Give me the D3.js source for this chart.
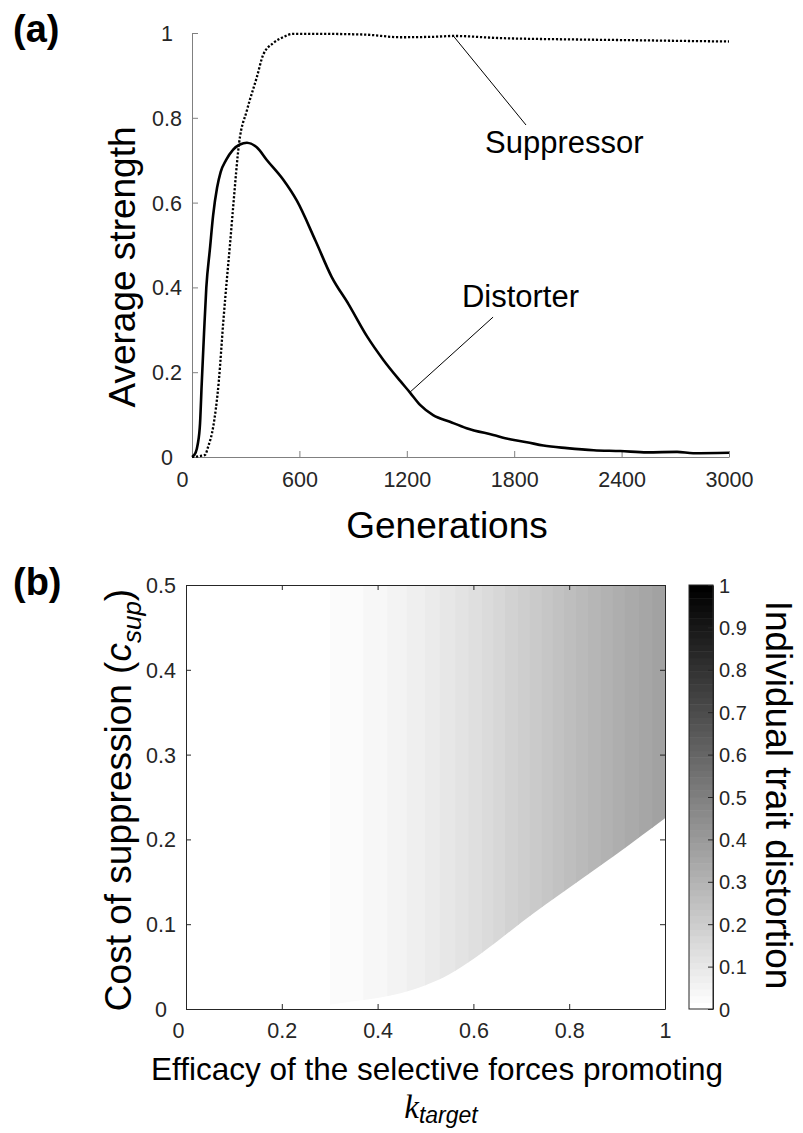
<!DOCTYPE html>
<html>
<head>
<meta charset="utf-8">
<script src="https://cdn.jsdelivr.net/npm/d3@7"></script>
<style>
  body { margin: 0; background: #fff; }
  text { font-family: "Liberation Sans", Arial, Helvetica, sans-serif; }
</style>
</head>
<body>
<svg id="fig" width="803" height="1133"></svg>
<script>
// ---- panel (a) data ----
const genTicks = [0, 600, 1200, 1800, 2400, 3000];
const strengthTicks = [0, 0.2, 0.4, 0.6, 0.8, 1];

const distGen = [0, 20, 32, 45, 54, 67, 80, 100, 118, 140, 160, 190, 230, 268, 307, 363, 419, 508, 585, 690, 780, 875, 977, 1069, 1162, 1218, 1274, 1347, 1441, 1534, 1683, 1776, 1870, 1963, 2095, 2244, 2393, 2542, 2710, 2800, 3000];
const distVal = [0, 0.01, 0.03, 0.08, 0.17, 0.29, 0.40, 0.49, 0.57, 0.635, 0.672, 0.70, 0.725, 0.737, 0.741, 0.73, 0.70, 0.655, 0.605, 0.51, 0.425, 0.36, 0.285, 0.229, 0.18, 0.152, 0.123, 0.099, 0.083, 0.068, 0.052, 0.042, 0.035, 0.027, 0.021, 0.016, 0.014, 0.011, 0.012, 0.009, 0.01];

const supGen = [0, 40, 73, 90, 118, 150, 175, 195, 212, 230, 263, 307, 363, 397, 453, 508, 564, 700, 899, 977, 1162, 1347, 1460, 1720, 2095, 2465, 2800, 3000];
const supVal = [0, 0.002, 0.005, 0.024, 0.07, 0.18, 0.32, 0.42, 0.50, 0.59, 0.74, 0.818, 0.897, 0.948, 0.976, 0.99, 0.998, 0.998, 0.997, 0.996, 0.99, 0.991, 0.993, 0.988, 0.985, 0.983, 0.981, 0.98];

const annotations = [
  { label: "Suppressor", from: [1460, 0.993], to: [1866, 0.783], at: [1637, 0.717] },
  { label: "Distorter", from: [1218, 0.153], to: [1682, 0.330], at: [1508, 0.354] }
];

// ---- panel (b) data ----
const kTicks = [0, 0.2, 0.4, 0.6, 0.8, 1];
const costTicks = [0, 0.1, 0.2, 0.3, 0.4, 0.5];
const barTicks = [0, 0.1, 0.2, 0.3, 0.4, 0.5, 0.6, 0.7, 0.8, 0.9, 1];

// lower edge of the shaded region (below it: white)
const boundaryK = [0.30, 0.35, 0.40, 0.45, 0.50, 0.55, 0.60, 0.65, 0.70, 0.75, 0.80, 0.85, 0.90, 0.95, 1.00];
const boundaryC = [0.005, 0.009, 0.013, 0.019, 0.028, 0.041, 0.059, 0.080, 0.102, 0.123, 0.143, 0.163, 0.183, 0.204, 0.225];

// k where each colour level (1, 2, 3 ...) of the 64-step gray map begins
const bandStartK = [0.300, 0.370, 0.420, 0.461, 0.499, 0.530, 0.562, 0.589, 0.618, 0.641, 0.666, 0.693, 0.718, 0.743, 0.766, 0.789, 0.814, 0.839, 0.866, 0.891, 0.916, 0.944, 0.973];
const nLevels = 64;

const levelColor = n => { const g = Math.round(255 * (1 - n / (nLevels - 1))); return d3.rgb(g, g, g).toString(); };

const svg = d3.select("#fig");
const tickFont = 21.5;

// ================= panel (a) =================
const xA = d3.scaleLinear().domain([0, 3000]).range([192, 729]);
const yA = d3.scaleLinear().domain([0, 1]).range([457, 33]);

const axA = "#808080";
const gxA = svg.append("g").attr("transform", "translate(0,457)")
  .call(d3.axisBottom(xA).tickValues(genTicks).tickSize(-6).tickSizeOuter(0).tickPadding(15).tickFormat(d3.format("~g")));
const gyA = svg.append("g").attr("transform", "translate(192,0)")
  .call(d3.axisLeft(yA).tickValues(strengthTicks).tickSize(-6).tickSizeOuter(0).tickFormat(d3.format("~g")));

[gxA, gyA].forEach(g => {
  g.attr("font-size", tickFont).attr("font-family", null);
  g.select(".domain").attr("stroke", axA);
  g.selectAll(".tick line").attr("stroke", axA);
  g.selectAll(".tick text").attr("fill", "#262626");
});
gyA.selectAll(".tick text").attr("text-anchor", "middle").attr("x", -25).attr("dy", "0.35em");
gxA.selectAll(".tick text").filter(d => d === 0).attr("x", -10);

const lineA = d3.line().x(d => xA(d[0])).y(d => yA(d[1])).curve(d3.curveMonotoneX);

svg.append("path")
  .datum(d3.zip(supGen, supVal))
  .attr("d", lineA)
  .attr("fill", "none")
  .attr("stroke", "#000")
  .attr("stroke-width", 2.3)
  .attr("stroke-dasharray", "2.2 1.8");

svg.append("path")
  .datum(d3.zip(distGen, distVal))
  .attr("d", lineA)
  .attr("fill", "none")
  .attr("stroke", "#000")
  .attr("stroke-width", 2.6);

annotations.forEach(a => {
  svg.append("line")
    .attr("x1", xA(a.from[0])).attr("y1", yA(a.from[1]))
    .attr("x2", xA(a.to[0])).attr("y2", yA(a.to[1]))
    .attr("stroke", "#000").attr("stroke-width", 1);
  svg.append("text")
    .attr("x", xA(a.at[0])).attr("y", yA(a.at[1]))
    .attr("font-size", 31)
    .text(a.label);
});

svg.append("text")
  .attr("transform", "translate(135,267) rotate(-90)")
  .attr("text-anchor", "middle")
  .attr("font-size", 37)
  .text("Average strength");

svg.append("text")
  .attr("x", 447).attr("y", 538)
  .attr("text-anchor", "middle")
  .attr("font-size", 37)
  .text("Generations");

svg.append("text")
  .attr("x", 13).attr("y", 42)
  .attr("font-size", 38).attr("font-weight", "bold")
  .text("(a)");

// ================= panel (b) =================
const xB = d3.scaleLinear().domain([0, 1]).range([186, 665]);
const yB = d3.scaleLinear().domain([0, 0.5]).range([1009, 585]);

const clip = svg.append("defs").append("clipPath").attr("id", "shadeClip");
clip.append("path")
  .datum(d3.zip(boundaryK, boundaryC))
  .attr("d", d3.area()
    .x(d => xB(d[0]))
    .y0(d => yB(d[1]))
    .y1(yB(0.5))
    .curve(d3.curveMonotoneX));

const bandEnds = bandStartK.slice(1).concat([1]);
svg.append("g").attr("clip-path", "url(#shadeClip)")
  .selectAll("rect")
  .data(bandStartK)
  .join("rect")
  .attr("x", d => xB(d))
  .attr("width", (d, i) => xB(bandEnds[i]) - xB(d) + 0.6)
  .attr("y", yB(0.5))
  .attr("height", yB(0) - yB(0.5))
  .attr("fill", (d, i) => levelColor(i + 1));

const axB = "#262626";
const gxB = svg.append("g").attr("transform", "translate(0,1009)")
  .call(d3.axisBottom(xB).tickValues(kTicks).tickSize(-5).tickSizeOuter(0).tickPadding(14).tickFormat(d3.format("~g")));
const gyB = svg.append("g").attr("transform", "translate(186,0)")
  .call(d3.axisLeft(yB).tickValues(costTicks).tickSize(-5).tickSizeOuter(0).tickFormat(d3.format("~g")));
const gtB = svg.append("g").attr("transform", "translate(0,585)")
  .call(d3.axisTop(xB).tickValues(kTicks).tickSize(-5).tickSizeOuter(0).tickFormat(""));
const grB = svg.append("g").attr("transform", "translate(665,0)")
  .call(d3.axisRight(yB).tickValues(costTicks).tickSize(-5).tickSizeOuter(0).tickFormat(""));

[gxB, gyB, gtB, grB].forEach(g => {
  g.attr("font-size", tickFont).attr("font-family", null);
  g.select(".domain").attr("stroke", axB);
  g.selectAll(".tick line").attr("stroke", axB);
  g.selectAll(".tick text").attr("fill", "#262626");
});
gyB.selectAll(".tick text").attr("text-anchor", "middle").attr("x", -25).attr("dy", "0.35em");
gxB.selectAll(".tick text").filter(d => d === 0).attr("x", -8);

// colour bar
const yC = d3.scaleLinear().domain([0, 1]).range([1009, 585]);
const cbX = 689, cbW = 24;
svg.append("g")
  .selectAll("rect")
  .data(d3.range(nLevels))
  .join("rect")
  .attr("x", cbX)
  .attr("width", cbW)
  .attr("y", n => yC((n + 1) / nLevels))
  .attr("height", n => yC(n / nLevels) - yC((n + 1) / nLevels) + 0.5)
  .attr("fill", n => levelColor(n));

svg.append("rect")
  .attr("x", cbX).attr("y", yC(1))
  .attr("width", cbW).attr("height", yC(0) - yC(1))
  .attr("fill", "none").attr("stroke", axB).attr("stroke-width", 1);

const gC = svg.append("g").attr("transform", `translate(${cbX + cbW},0)`)
  .call(d3.axisRight(yC).tickValues(barTicks).tickSize(-5).tickSizeOuter(0).tickPadding(6).tickFormat(d3.format("~g")));
gC.attr("font-size", 20).attr("font-family", null);
gC.select(".domain").attr("stroke", axB);
gC.selectAll(".tick line").attr("stroke", axB);
gC.selectAll(".tick text").attr("fill", "#262626").attr("dy", "0.35em");

// labels
const ylabB = svg.append("text")
  .attr("transform", "translate(131,800) rotate(-90)")
  .attr("text-anchor", "middle")
  .attr("font-size", 37);
ylabB.append("tspan").text("Cost of suppression (");
ylabB.append("tspan").attr("font-style", "italic").text("c");
ylabB.append("tspan").attr("font-style", "italic").attr("font-size", 26).attr("dy", 10).text("sup");
ylabB.append("tspan").attr("dy", -10).text(")");

svg.append("text")
  .attr("x", 437).attr("y", 1080)
  .attr("text-anchor", "middle")
  .attr("font-size", 31.5)
  .text("Efficacy of the selective forces promoting");

const klab = svg.append("text")
  .attr("x", 441).attr("y", 1118)
  .attr("text-anchor", "middle");
klab.append("tspan")
  .attr("font-family", "'Liberation Serif', 'Times New Roman', serif")
  .attr("font-style", "italic").attr("font-size", 33).text("k");
klab.append("tspan")
  .attr("font-style", "italic").attr("font-size", 23).attr("dy", 5).text("target");

svg.append("text")
  .attr("transform", "translate(766,795) rotate(90)")
  .attr("text-anchor", "middle")
  .attr("font-size", 37)
  .text("Individual trait distortion");

svg.append("text")
  .attr("x", 13).attr("y", 595)
  .attr("font-size", 38).attr("font-weight", "bold")
  .text("(b)");
</script>
</body>
</html>
